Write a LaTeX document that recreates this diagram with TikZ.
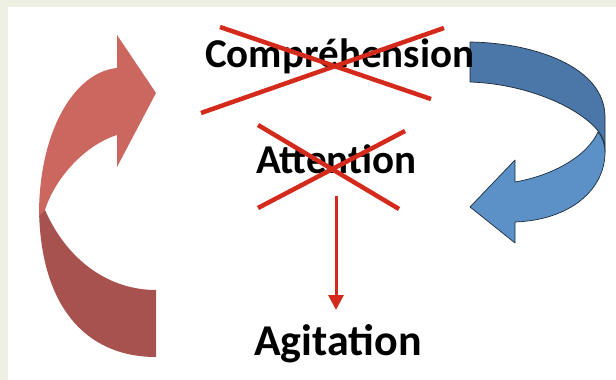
\documentclass[tikz,border=0pt]{standalone}
\usepackage{fontspec}
\setmainfont{Carlito}
\usetikzlibrary{arrows.meta}
\definecolor{frame}{HTML}{EEF0E4}
\definecolor{crossred}{HTML}{D42A1C}
\definecolor{redlight}{HTML}{CB675F}
\definecolor{reddark}{HTML}{A85250}
\definecolor{bluedark}{HTML}{4A77A8}
\definecolor{bluelight}{HTML}{5B91C7}
\definecolor{blueline}{HTML}{1E2A3A}
\begin{document}
\begin{tikzpicture}[x=1pt,y=-1pt,
  lbl/.style={inner sep=0pt, anchor=base west, font=\fontsize{41}{48}\selectfont\bfseries},
  biglbl/.style={inner sep=0pt, anchor=base west, font=\fontsize{44}{52}\selectfont\bfseries},
  cross/.style={draw=crossred, line width=4.5pt},
  link/.style={draw=crossred, line width=3pt, -{Triangle[length=15pt,width=15pt]}},
  bluepart/.style={draw=blueline, line width=0.7pt, line join=round}]
\useasboundingbox (0,0) rectangle (616,380);
\fill[frame] (0,0) rectangle (616,380);
\fill[white] (8,7) rectangle (616,380);

% left curved arrow (red)
\fill[reddark] (39,205) .. controls (39,305) and (85,357) .. (156,357) -- (156,290)
  .. controls (110,290) and (68,262) .. (45,210) -- cycle;
\fill[redlight] (39,215) .. controls (39,130) and (75,72) .. (117,68) -- (117,35) -- (156,93)
  -- (117,167) -- (117,135) .. controls (85,145) and (55,178) .. (45,210) -- (39,216) -- cycle;

% right curved arrow (blue)
\filldraw[bluepart, fill=bluedark] (470,42) .. controls (537,43) and (605,68) .. (605,117) -- (605,152)
  .. controls (605,146) and (604,141) .. (601,135)
  .. controls (585,110) and (530,84) .. (470,82) -- cycle;
\filldraw[bluepart, fill=bluelight] (515,182) .. controls (550,176) and (586,158) .. (598,132)
  .. controls (603,138) and (605,145) .. (605,152)
  .. controls (605,190) and (570,220) .. (515,222) -- (515,243) -- (470,207) -- (515,160) -- cycle;

% texts
\node[lbl] (comp) at (205,67) {Compréhension};
\node[lbl] (att) at (256,173) {Attention};
\node[biglbl] (agit) at (254,355) {Agitation};

% crosses
\draw[cross] (220,27) -- (431,99);
\draw[cross] (201,113) -- (444,28);
\draw[cross] (258,125) -- (399,209);
\draw[cross] (258,208) -- (405,131);

% connector
\coordinate (linkstart) at (336,196);
\coordinate (linkend) at (336,310);
\draw[link] (linkstart) -- (linkend);
\end{tikzpicture}
\end{document}
